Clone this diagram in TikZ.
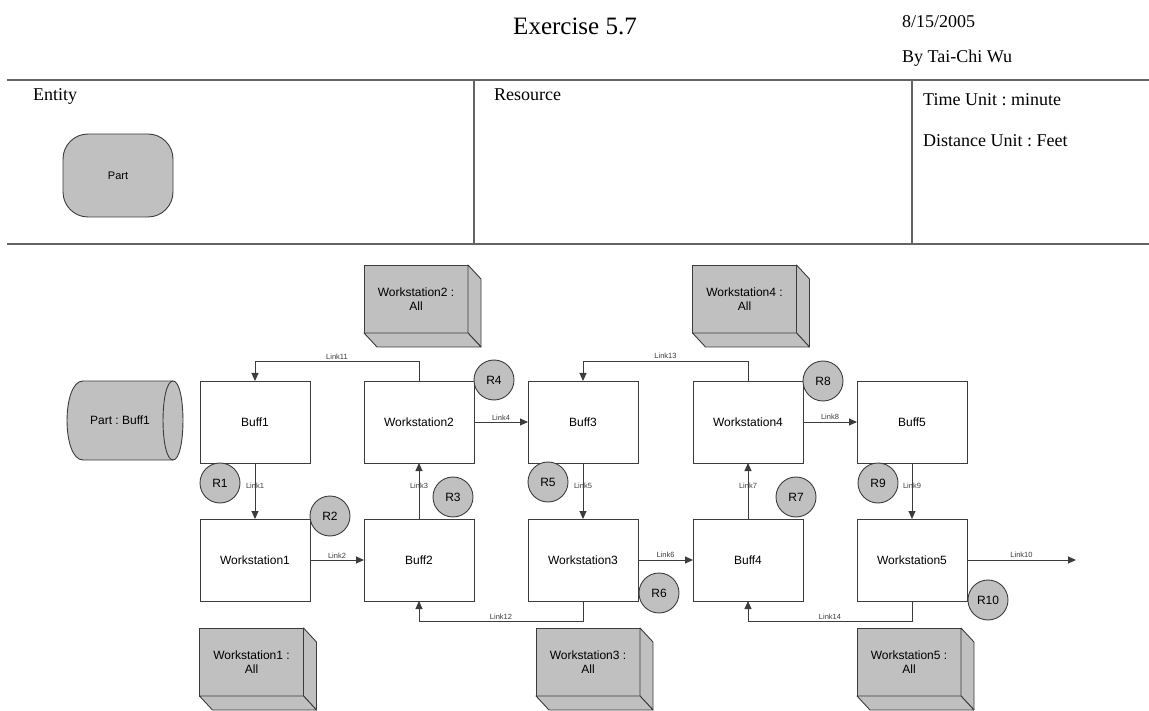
\documentclass[tikz,border=0pt]{standalone}
\usepackage{fontspec}
\setmainfont{Liberation Serif}
\newfontfamily\arial{Liberation Sans}
\usetikzlibrary{arrows.meta}
\definecolor{shade}{RGB}{192,192,192}
\definecolor{edge}{RGB}{60,60,60}
\definecolor{rulecol}{RGB}{100,100,100}
\frenchspacing

% resource box: front face as a node, then the right and bottom faces
\newcommand{\unitbox}[4]{%
  \node[unit] (#1) at (#2,#3) {#4};
  \draw[face] (#1.north east) -- ++(13,14) -- ++(0,68) -- (#1.south east) -- cycle;
  \draw[face] (#1.south west) -- ++(13,14) -- ++(104,0) -- (#1.south east) -- cycle;
}

\begin{document}
\begin{tikzpicture}[x=1pt,y=-1pt,
    head/.style={anchor=base west,inner sep=0pt,font=\fontsize{18}{20}\selectfont},
    box/.style={draw=edge,fill=white,line width=.9pt,minimum width=110pt,minimum height=82pt,
      outer sep=0pt,font=\arial\fontsize{12}{14}\selectfont},
    unit/.style={draw=edge,fill=shade,line width=.9pt,minimum width=104pt,minimum height=68pt,
      outer sep=0pt,align=center,font=\arial\fontsize{12}{14}\selectfont},
    face/.style={draw=edge,fill=shade,line width=.9pt,line join=round},
    res/.style={circle,draw=edge,fill=shade,line width=.9pt,minimum size=40pt,inner sep=0pt,
      font=\arial\fontsize{12}{14}\selectfont},
    link/.style={draw=edge,line width=.9pt,-{Triangle[length=8pt,width=7pt]}},
    lbl/.style={inner sep=1.5pt,text=edge,font=\arial\fontsize{7.5}{8}\selectfont}]
  \useasboundingbox (0,0) rectangle (1149,711);

  % title block
  \node[anchor=base,inner sep=0pt,font=\fontsize{25}{30}\selectfont] (title) at (575,35) {Exercise 5.7};
  \node[head] (date) at (902,28) {8/15/2005};
  \node[head] (author) at (902,63) {By Tai-Chi Wu};
  \draw[rulecol,line width=1.5pt] (7,80) -- (1149,80);
  \draw[rulecol,line width=1.5pt] (7,244) -- (1149,244);
  \draw[rulecol,line width=1.2pt] (474,80) -- (474,244);
  \draw[rulecol,line width=1.2pt] (912,80) -- (912,244);
  \node[head] (entity) at (33,101) {Entity};
  \node[head] (resource) at (494,101) {Resource};
  \node[head] (timeunit) at (923,106) {Time Unit : minute};
  \node[head] (distunit) at (923,147) {Distance Unit : Feet};
  \node[draw=edge,fill=shade,line width=.9pt,rounded corners=25pt,minimum width=110pt,
    minimum height=83pt,font=\arial\fontsize{11}{13}\selectfont] (part) at (118,175.5) {Part};

  % arrival queue
  \filldraw[face] (83,381) -- (173,381) .. controls (186.3,381) and (186.3,460) .. (173,460)
    -- (83,460) .. controls (61.7,460) and (61.7,381) .. (83,381) -- cycle;
  \draw[edge,line width=.9pt] (173,381) .. controls (159.7,381) and (159.7,460) .. (173,460);
  \node[font=\arial\fontsize{12}{14}\selectfont] (arrive) at (120,420) {Part : Buff1};

  % buffers and workstations
  \node[box] (buff1) at (255,422) {Buff1};
  \node[box] (ws2) at (419,422) {Workstation2};
  \node[box] (buff3) at (583,422) {Buff3};
  \node[box] (ws4) at (748,422) {Workstation4};
  \node[box] (buff5) at (912,422) {Buff5};
  \node[box] (ws1) at (255,560) {Workstation1};
  \node[box] (buff2) at (419,560) {Buff2};
  \node[box] (ws3) at (583,560) {Workstation3};
  \node[box] (buff4) at (748,560) {Buff4};
  \node[box] (ws5) at (912,560) {Workstation5};
  \coordinate (sink) at (1076,560);

  \unitbox{unit2}{416}{299}{Workstation2 :\\All}
  \unitbox{unit4}{744.5}{299}{Workstation4 :\\All}
  \unitbox{unit1}{251.5}{662}{Workstation1 :\\All}
  \unitbox{unit3}{588}{662}{Workstation3 :\\All}
  \unitbox{unit5}{909}{662}{Workstation5 :\\All}

  % links
  \draw[link] (buff1) -- node[lbl,pos=.4] {Link1} (ws1);
  \draw[link] (ws1) -- node[lbl,above] {Link2} (buff2);
  \draw[link] (buff2) -- node[lbl,pos=.6] {Link3} (ws2);
  \draw[link] (ws2) -- node[lbl,above] {Link4} (buff3);
  \draw[link] (buff3) -- node[lbl,pos=.4] {Link5} (ws3);
  \draw[link] (ws3) -- node[lbl,above] {Link6} (buff4);
  \draw[link] (buff4) -- node[lbl,pos=.6] {Link7} (ws4);
  \draw[link] (ws4) -- node[lbl,above] {Link8} (buff5);
  \draw[link] (buff5) -- node[lbl,pos=.4] {Link9} (ws5);
  \draw[link] (ws5) -- node[lbl,above] {Link10} (sink);
  \draw[link] (ws2.north) -- ++(0,-20) -| node[lbl,above,pos=.25] {Link11} (buff1.north);
  \draw[link] (ws3.south) -- ++(0,20) -| node[lbl,above,pos=.25] {Link12} (buff2.south);
  \draw[link] (ws4.north) -- ++(0,-20) -| node[lbl,above,pos=.25] {Link13} (buff3.north);
  \draw[link] (ws5.south) -- ++(0,20) -| node[lbl,above,pos=.25] {Link14} (buff4.south);

  % resources
  \node[res] (r1) at (220,483) {R1};
  \node[res] (r2) at (330,516) {R2};
  \node[res] (r3) at (453,497) {R3};
  \node[res] (r4) at (494,380) {R4};
  \node[res] (r5) at (548,482) {R5};
  \node[res] (r6) at (659,593) {R6};
  \node[res] (r7) at (796,497) {R7};
  \node[res] (r8) at (823,381) {R8};
  \node[res] (r9) at (878,483) {R9};
  \node[res] (r10) at (988,600) {R10};
\end{tikzpicture}
\end{document}
